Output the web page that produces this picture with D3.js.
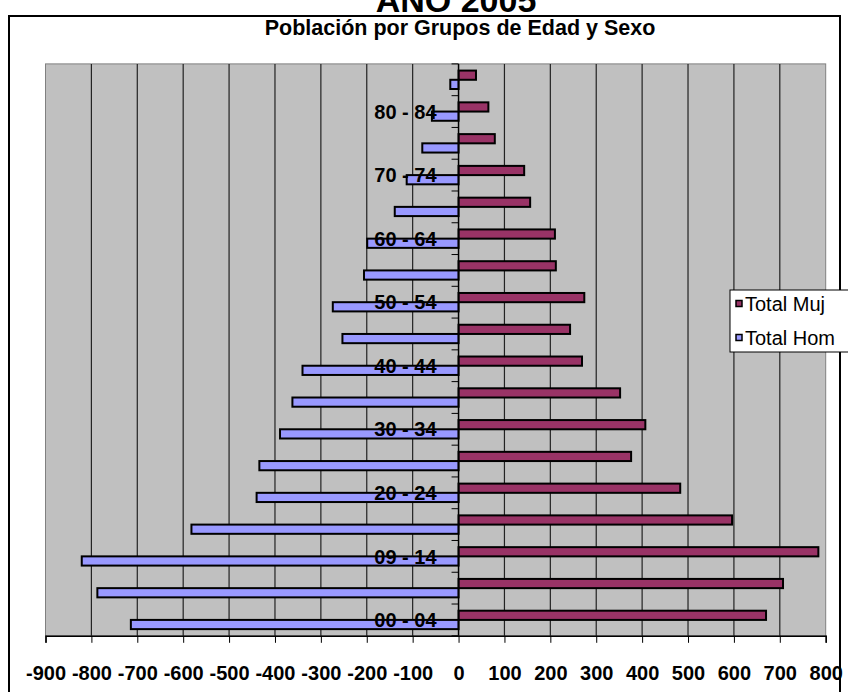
<!DOCTYPE html>
<html>
<head>
<meta charset="utf-8">
<script src="https://cdn.jsdelivr.net/npm/d3@7"></script>
<style>
  html, body { margin: 0; padding: 0; background: #fff; }
  svg { display: block; font-family: "Liberation Sans", Arial, sans-serif; }
</style>
</head>
<body>
<svg id="chart" width="848" height="692"></svg>
<script>
// ---- data (bottom to top) ----
const categories = ["00 - 04","05 - 08","09 - 14","15 - 19","20 - 24","25 - 29","30 - 34","35 - 39","40 - 44","45 - 49","50 - 54","55 - 59","60 - 64","65 - 69","70 - 74","75 - 79","80 - 84","85 +"];
const totalHom = [714, 787, 821, 582, 440, 434, 389, 362, 340, 253, 274, 206, 199, 139, 113, 79, 58, 18];
const totalMuj = [670, 707, 784, 596, 483, 376, 407, 352, 269, 243, 274, 212, 210, 156, 143, 79, 65, 38];
const xTicks = [-900,-800,-700,-600,-500,-400,-300,-200,-100,0,100,200,300,400,500,600,700,800];
const seriesNames = ["Total Muj", "Total Hom"];
const seriesColors = ["#993366", "#9999FF"];
const mainTitle = "AÑO 2005";
const chartTitle = "Población por Grupos de Edad y Sexo";

const svg = d3.select("#chart");
const plot = { left: 45.5, right: 825.7, top: 63.9, bottom: 635.8 };

// chart border
svg.append("rect").attr("x", 9).attr("y", 16).attr("width", 831).attr("height", 700)
  .attr("fill", "#fff").attr("stroke", "#000").attr("stroke-width", 2);

// titles
svg.append("text").attr("x", 456).attr("y", 12).attr("text-anchor", "middle")
  .attr("font-size", 34).attr("font-weight", "bold").text(mainTitle);
svg.append("text").attr("x", 460).attr("y", 35).attr("text-anchor", "middle")
  .attr("font-size", 21.5).attr("font-weight", "bold").text(chartTitle);

// scales
const x = d3.scaleLinear().domain([-900, 800]).range([plot.left, plot.right]);
const y = d3.scaleBand().domain(categories.slice().reverse()).range([plot.top, plot.bottom])
  .paddingInner(0.42).paddingOuter(0.21);
const sub = d3.scaleBand().domain(seriesNames).range([0, y.bandwidth()]);

// plot background
svg.append("rect").attr("x", plot.left).attr("y", plot.top)
  .attr("width", plot.right - plot.left).attr("height", plot.bottom - plot.top)
  .attr("fill", "#C0C0C0").attr("stroke", "#808080").attr("stroke-width", 1);

// gridlines
svg.append("g").selectAll("line").data(xTicks.filter(d => d > -900 && d < 800 && d !== 0)).join("line")
  .attr("x1", d => x(d)).attr("x2", d => x(d)).attr("y1", plot.top).attr("y2", plot.bottom)
  .attr("stroke", "#222").attr("stroke-width", 1.2);

// bars
const rows = categories.map((c, i) => ({ c, muj: totalMuj[i], hom: totalHom[i] }));
const g = svg.append("g");
g.selectAll("rect.muj").data(rows).join("rect").attr("class", "muj")
  .attr("x", x(0)).attr("y", d => y(d.c) + sub("Total Muj"))
  .attr("width", d => x(d.muj) - x(0)).attr("height", sub.bandwidth())
  .attr("fill", seriesColors[0]).attr("stroke", "#000").attr("stroke-width", 2);
g.selectAll("rect.hom").data(rows).join("rect").attr("class", "hom")
  .attr("x", d => x(-d.hom)).attr("y", d => y(d.c) + sub("Total Hom"))
  .attr("width", d => x(0) - x(-d.hom)).attr("height", sub.bandwidth())
  .attr("fill", seriesColors[1]).attr("stroke", "#000").attr("stroke-width", 2);

// x axis
const xAxis = svg.append("g").attr("transform", `translate(0,${plot.bottom})`)
  .call(d3.axisBottom(x).tickValues(xTicks).tickSize(7).tickPadding(23).tickFormat(d => String(d)));
xAxis.select(".domain").attr("stroke", "#000").attr("stroke-width", 1.5);
xAxis.selectAll(".tick line").attr("stroke", "#000");
xAxis.selectAll("text").attr("font-size", 20).attr("font-weight", "bold")
  .attr("font-family", "'Liberation Sans', Arial, sans-serif").attr("fill", "#000");

// y axis at zero (category axis)
const step = y.step();
const boundaries = d3.range(categories.length + 1).map(i => plot.top + i * step);
svg.append("g").selectAll("line").data(boundaries).join("line")
  .attr("x1", x(0) - 7).attr("x2", x(0)).attr("y1", d => d).attr("y2", d => d)
  .attr("stroke", "#000").attr("stroke-width", 1);
svg.append("line").attr("x1", x(0)).attr("x2", x(0)).attr("y1", plot.top).attr("y2", plot.bottom)
  .attr("stroke", "#000").attr("stroke-width", 1.5);
svg.append("g").selectAll("text").data(categories.filter((c, i) => i % 2 === 0)).join("text")
  .attr("x", x(0) - 22).attr("y", d => y(d) + y.bandwidth() / 2).attr("dy", "0.36em")
  .attr("text-anchor", "end").attr("font-size", 20).attr("font-weight", "bold").text(d => d);

// legend
const lg = svg.append("g");
lg.append("rect").attr("x", 730).attr("y", 290).attr("width", 130).attr("height", 62)
  .attr("fill", "#fff").attr("stroke", "#000").attr("stroke-width", 1);
seriesNames.forEach((s, i) => {
  const cy = 304 + i * 34;
  lg.append("rect").attr("x", 736).attr("y", cy - 3.5).attr("width", 6).attr("height", 6)
    .attr("fill", seriesColors[i]).attr("stroke", "#000").attr("stroke-width", 1.5);
  lg.append("text").attr("x", 745).attr("y", cy).attr("dy", "0.36em")
    .attr("font-size", 20).text(s);
});
</script>
</body>
</html>
